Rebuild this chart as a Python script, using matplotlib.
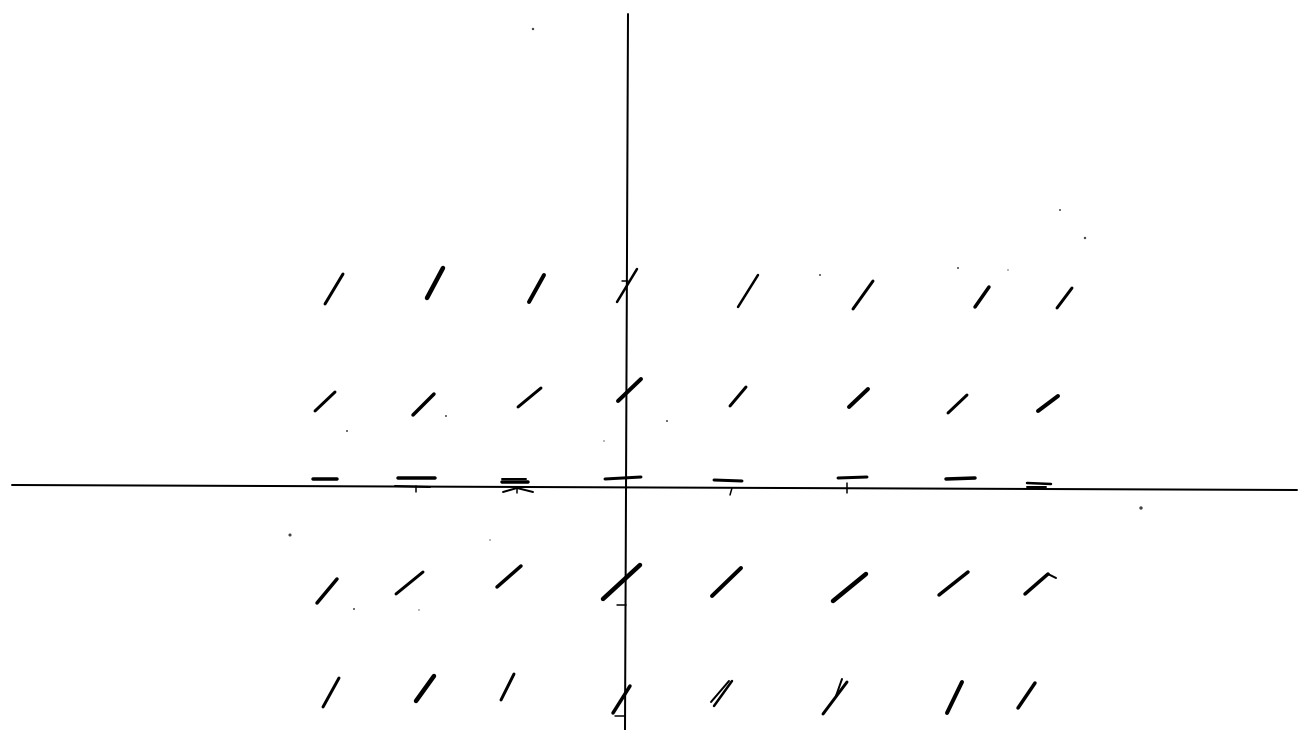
import matplotlib
matplotlib.use("Agg")
import matplotlib.pyplot as plt

# hand drawn slope field, everything in picture pixels
# each stroke: x1, y1, x2, y2
row1 = [(325, 304, 343, 274), (427, 298, 443, 268), (529, 302, 544, 275), (617, 302, 637, 269),
        (738, 307, 758, 275), (853, 309, 873, 281), (975, 307, 989, 287), (1057, 308, 1072, 288)]
row2 = [(315, 411, 335, 392), (413, 415, 434, 394), (518, 407, 541, 388), (618, 401, 641, 379),
        (730, 406, 746, 387), (849, 407, 868, 389), (948, 413, 967, 395), (1038, 411, 1058, 396)]
row3 = [(313, 479, 337, 479), (398, 478, 435, 478), (502, 482, 528, 482), (605, 479, 641, 477),
        (714, 480, 742, 481), (838, 478, 867, 477), (946, 479, 975, 478), (1027, 483, 1051, 484)]
row4 = [(317, 603, 337, 579), (396, 594, 423, 572), (497, 587, 521, 566), (603, 599, 640, 565),
        (712, 596, 741, 568), (833, 601, 866, 574), (939, 595, 968, 572), (1025, 594, 1048, 574)]
row5 = [(323, 707, 339, 678), (416, 701, 434, 676), (501, 700, 514, 674), (613, 713, 630, 686),
        (714, 706, 732, 681), (823, 714, 847, 682), (947, 713, 962, 682), (1018, 708, 1035, 683)]

# pen pressure of each stroke, in pixels
row1_w = [3, 4.5, 4, 2.5, 2.5, 3, 3.5, 3]
row2_w = [3, 3.5, 3, 4, 3, 4, 3, 4]
row3_w = [3.5, 3.5, 3.5, 3, 3, 3, 3.5, 2.5]
row4_w = [3.5, 3, 3.5, 4.5, 4, 4.5, 3.5, 3.5]
row5_w = [3, 4.5, 3, 3.5, 2.5, 3, 4, 3.5]

# second passes of the pen and marks on the axis
extra = [(395, 486, 430, 487), (503, 492, 517, 488), (517, 488, 533, 492), (502, 479, 526, 479),
         (1027, 487, 1046, 487), (711, 702, 729, 681), (836, 696, 842, 679), (1048, 574, 1056, 578)]

x_axis = (12, 485, 1297, 490)
y_axis = (628, 14, 625, 730)
x_ticks = [(416, 486, 416, 492), (517, 488, 517, 493), (732, 488, 730, 495), (847, 483, 847, 493)]
y_ticks = [(622, 281, 628, 281), (617, 605, 626, 605), (615, 716, 625, 716)]

speck_x = [533, 290, 1141, 1085, 1060, 820, 347, 446, 667, 604, 958, 1008, 354, 490, 419]
speck_y = [29, 535, 508, 238, 210, 275, 431, 416, 421, 441, 268, 270, 609, 540, 610]
speck_s = [3, 5, 6, 3, 2, 2, 2, 2, 2, 1, 2, 1, 2, 1, 1]


def draw(ax, seg, width, **kw):
    ax.plot([seg[0], seg[2]], [seg[1], seg[3]], color="black", lw=width * 0.72,
            solid_capstyle="round", **kw)


fig = plt.figure(figsize=(12.99, 7.30), dpi=100)
ax = fig.add_axes([0, 0, 1, 1])
ax.set_xlim(0, 1299)
ax.set_ylim(730, 0)
ax.axis("off")

draw(ax, x_axis, 2)
draw(ax, y_axis, 2)
for seg in x_ticks + y_ticks:
    draw(ax, seg, 1.5)

for strokes, widths in [(row1, row1_w), (row2, row2_w), (row3, row3_w), (row4, row4_w), (row5, row5_w)]:
    for seg, w in zip(strokes, widths):
        draw(ax, seg, w)
for seg in extra:
    draw(ax, seg, 2)

ax.scatter(speck_x, speck_y, s=speck_s, color="#444444", linewidths=0)

fig.savefig("out.png", dpi=100)
